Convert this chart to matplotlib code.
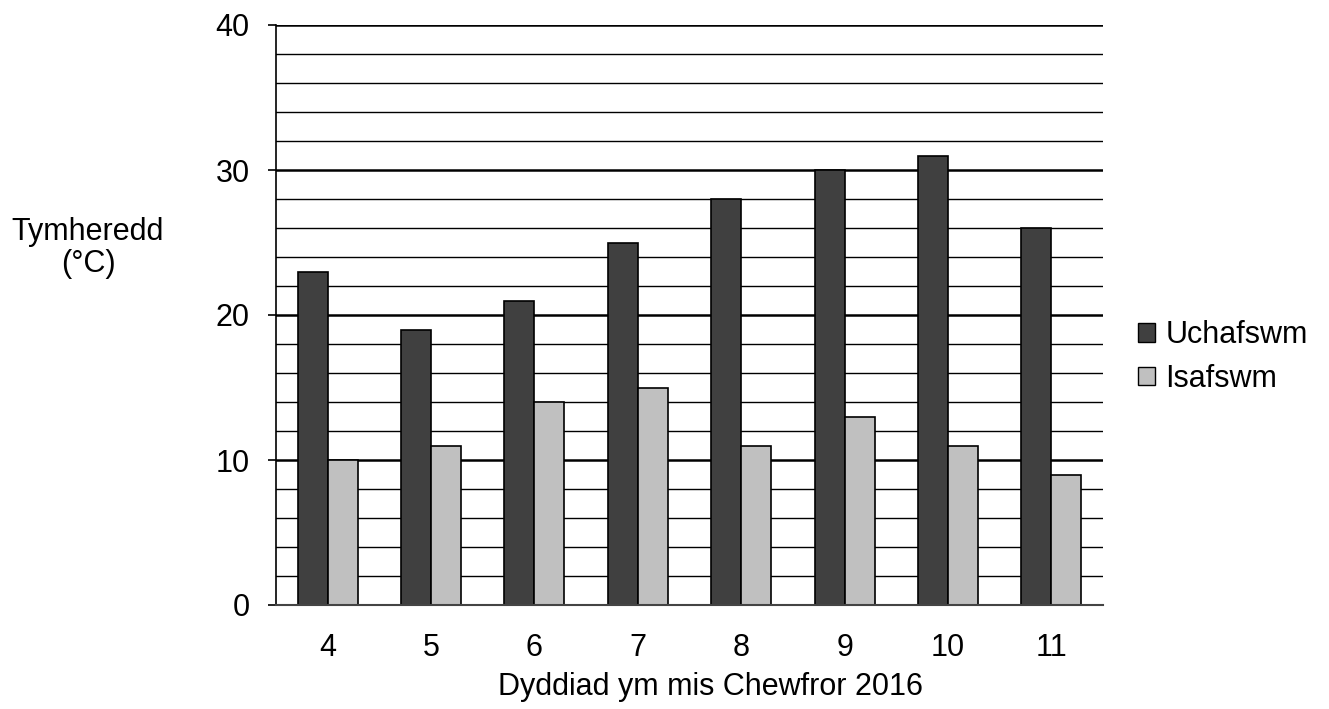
import matplotlib
matplotlib.use("Agg")
import matplotlib.pyplot as plt
from matplotlib.patches import Patch
import numpy as np

plt.rcParams['font.family'] = ['Liberation Sans', 'DejaVu Sans']

days = ["4", "5", "6", "7", "8", "9", "10", "11"]
uchafswm = [23, 19, 21, 25, 28, 30, 31, 26]
isafswm = [10, 11, 14, 15, 11, 13, 11, 9]

fig = plt.figure(figsize=(13.29, 7.09), dpi=100)
ax = fig.add_axes([276 / 1329, 1 - 605 / 709, (1103 - 276) / 1329, 580 / 709])

x = np.arange(len(days))
w = 0.29
ax.bar(x - w / 2, uchafswm, w, color="#404040", edgecolor="black", linewidth=1.2, zorder=3)
ax.bar(x + w / 2, isafswm, w, color="#c0c0c0", edgecolor="black", linewidth=1.2, zorder=3)

ax.set_xlim(-0.5, len(days) - 0.5)
ax.set_ylim(0, 40)
ax.set_xticks(x)
ax.set_xticklabels(days)
ax.set_yticks([0, 10, 20, 30, 40])
ax.set_yticks(np.arange(0, 41, 2), minor=True)
ax.tick_params(axis="x", length=0, labelsize=22, pad=20)
ax.tick_params(axis="y", which="major", length=6, width=1.2, labelsize=22, pad=13)
ax.tick_params(axis="y", which="minor", length=0)

# horizontal grid: thin every 2, heavier every 10
for v in np.arange(2, 41, 2):
    lw = 1.8 if v % 10 == 0 else 1.0
    ax.axhline(v, color="black", linewidth=lw, zorder=1)

for s in ["top", "right"]:
    ax.spines[s].set_visible(False)
ax.spines["left"].set_linewidth(1.2)
ax.spines["left"].set_color("black")
ax.spines["bottom"].set_linewidth(1.5)
ax.spines["bottom"].set_color("#444444")
ax.spines["bottom"].set_zorder(4)

ax.set_xlabel("Dyddiad ym mis Chewfror 2016", fontsize=22, va="top")
ax.xaxis.set_label_coords((710 - 276) / 827, (605 - 672) / 580)
fig.text(88 / 1329, 1 - 248 / 709, "Tymheredd\n(°C)", fontsize=22, ha="center", va="center",
         multialignment="center", linespacing=1.1)

handles = [Patch(facecolor="#404040", edgecolor="black", label="Uchafswm"),
           Patch(facecolor="#c0c0c0", edgecolor="black", label="Isafswm")]
fig.legend(handles=handles, loc="center left", bbox_to_anchor=(1138 / 1329, 1 - 357 / 709),
           frameon=False, fontsize=22, handlelength=0.55, handleheight=0.55,
           handletextpad=0.35, labelspacing=0.45, borderaxespad=0, borderpad=0)

fig.savefig("out.png", dpi=100)
